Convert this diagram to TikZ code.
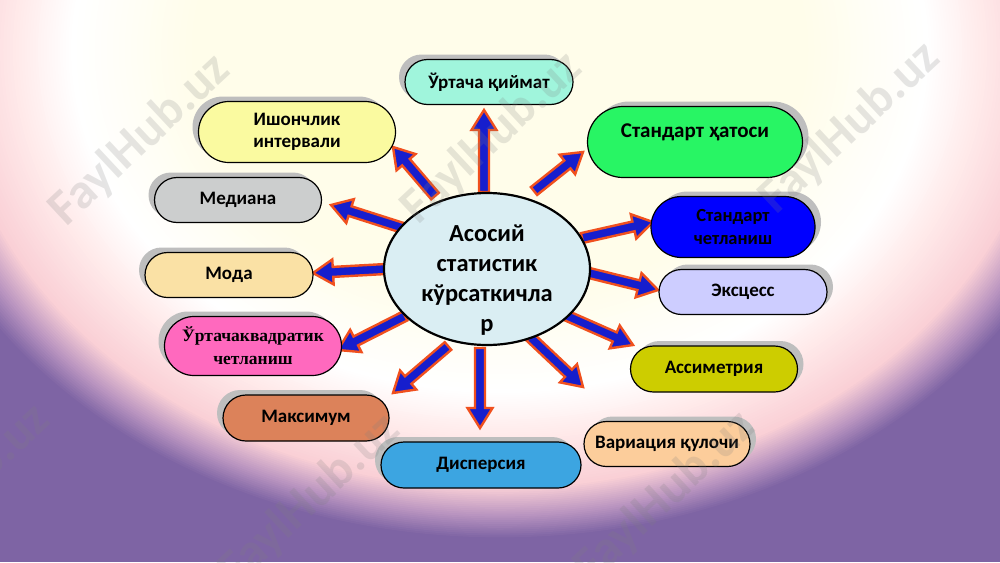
\documentclass[tikz,border=0pt]{standalone}
\usepackage{fontspec}
\setmainfont{Carlito}
\newfontfamily\serifb{Liberation Serif}
\usetikzlibrary{calc,shapes.misc,shapes.geometric,shadows}
\definecolor{bgA}{RGB}{255,253,234}
\definecolor{bgW}{RGB}{255,255,255}
\definecolor{bgB}{RGB}{255,234,234}
\definecolor{bgC}{RGB}{250,208,214}
\definecolor{bgD}{RGB}{185,148,192}
\definecolor{bgP}{RGB}{126,100,164}
\definecolor{shgray}{RGB}{190,190,190}
\definecolor{arrF}{RGB}{22,30,205}
\definecolor{arrD}{RGB}{240,80,30}
\definecolor{cCen}{RGB}{218,238,243}
\definecolor{cUrt}{RGB}{160,245,220}
\definecolor{cIsh}{RGB}{250,250,160}
\definecolor{cMed}{RGB}{204,206,206}
\definecolor{cMod}{RGB}{250,225,165}
\definecolor{cKv}{RGB}{255,105,190}
\definecolor{cMax}{RGB}{220,130,90}
\definecolor{cDis}{RGB}{60,165,225}
\definecolor{cVar}{RGB}{252,205,155}
\definecolor{cAss}{RGB}{205,205,0}
\definecolor{cEks}{RGB}{205,205,255}
\definecolor{cSch}{RGB}{0,0,255}
\definecolor{cSht}{RGB}{40,245,100}
\newcommand\ringband[5]{%
  \foreach \i in {0,...,#5}{%
    \pgfmathsetmacro\rx{1.1*(#1-(#1-#2)*\i/#5)}%
    \pgfmathsetmacro\ry{0.88*(#1-(#1-#2)*\i/#5)}%
    \pgfmathtruncatemacro\pp{100*\i/#5}%
    \fill[#4!\pp!#3] (500,50) circle[x radius=\rx, y radius=\ry];
  }}
\newcommand\blockarrow[2]{%
  \coordinate (ab) at ($(#2)!20pt!(#1)$);
  \draw[arrsty] ($(#1)!5pt!90:(#2)$) -- ($(ab)!5pt!90:(#2)$) -- ($(ab)!12.5pt!90:(#2)$) -- (#2) -- ($(ab)!12.5pt!-90:(#2)$) -- ($(ab)!5pt!-90:(#2)$) -- ($(#1)!5pt!-90:(#2)$) -- cycle;}
\tikzset{
  arrsty/.style={fill=arrF, draw=arrD, line width=2.4pt, line join=miter},
  pill/.style={rounded rectangle, draw=black, line width=1.2pt, inner sep=0pt, align=center,
    font=\bfseries\fontsize{19}{23}\selectfont},
  shl/.style={general shadow={fill=shgray, shadow xshift=-6pt, shadow yshift=5pt}},
  shr/.style={general shadow={fill=shgray, shadow xshift=6pt, shadow yshift=5pt}},
  wm/.style={font=\bfseries\fontsize{50}{50}\selectfont, text=gray, opacity=0.2, rotate=43},
}
\begin{document}
\begin{tikzpicture}[x=1pt,y=-1pt]
\useasboundingbox (0,0) rectangle (1000,562);
% background
\begin{scope}
  \clip (0,0) rectangle (1000,562);
  \fill[bgP] (0,0) rectangle (1000,562);
  \ringband{556}{530}{bgP}{bgD}{12}
  \ringband{530}{498}{bgD}{bgC}{15}
  \ringband{498}{440}{bgC}{bgB}{20}
  \ringband{440}{390}{bgB}{bgW}{20}
  \ringband{390}{280}{bgW}{bgA}{20}
\end{scope}
% arrow coordinates
\coordinate (a1t) at (484,192);  \coordinate (a1h) at (484,110);
\coordinate (a2t) at (435,196);  \coordinate (a2h) at (393,147);
\coordinate (a3t) at (534,191);  \coordinate (a3h) at (583,152);
\coordinate (a4t) at (403,228);  \coordinate (a4h) at (331,205);
\coordinate (a5t) at (386,269);  \coordinate (a5h) at (313,273);
\coordinate (a6t) at (405,316);  \coordinate (a6h) at (338,350);
\coordinate (a7t) at (448,346);  \coordinate (a7h) at (393,393);
\coordinate (a8t) at (480,348);  \coordinate (a8h) at (480,428);
\coordinate (a9t) at (530,337);  \coordinate (a9h) at (583,387);
\coordinate (a10t) at (565,315); \coordinate (a10h) at (633,345);
\coordinate (a11t) at (585,272); \coordinate (a11h) at (658,290);
\coordinate (a12t) at (582,238); \coordinate (a12h) at (653,222);
\blockarrow{a1t}{a1h}
\blockarrow{a2t}{a2h}
\blockarrow{a3t}{a3h}
\blockarrow{a4t}{a4h}
\blockarrow{a5t}{a5h}
\blockarrow{a6t}{a6h}
\blockarrow{a7t}{a7h}
\blockarrow{a8t}{a8h}
\blockarrow{a9t}{a9h}
\blockarrow{a10t}{a10h}
\blockarrow{a11t}{a11h}
\blockarrow{a12t}{a12h}
% centre
\node[ellipse, draw=black, line width=2.2pt, fill=cCen, minimum width=206pt, minimum height=152pt,
  inner sep=0pt] (cen) at (487,269) {};
\node[align=center, inner sep=0pt, font=\bfseries\fontsize{24.5}{30}\selectfont] (cent) at (487,280)
  {Асосий\\статистик\\кўрсаткичла\\р};
% pills
\node[pill, shl, fill=cUrt, minimum width=168pt, minimum height=45pt] (urt) at (489,82) {Ўртача қиймат};
\node[pill, shl, fill=cIsh, minimum width=197pt, minimum height=61pt,
  font=\bfseries\fontsize{19}{22}\selectfont] (ish) at (297,132) {Ишончлик\\интервали};
\node[pill, shl, fill=cMed, minimum width=167pt, minimum height=45pt] (med) at (238,200) {Медиана};
\node[pill, shl, fill=cMod, minimum width=168pt, minimum height=45pt] (mod) at (229,275) {Мода};
\node[pill, shl, fill=cKv, minimum width=177pt, minimum height=59pt,
  font=\serifb\bfseries\fontsize{17.5}{23}\selectfont] (kv) at (253,346) {Ўртачаквадратик\\четланиш};
\node[pill, shl, fill=cMax, minimum width=166pt, minimum height=46pt] (max) at (306,418) {Максимум};
\node[pill, shl, fill=cDis, minimum width=200pt, minimum height=46pt] (dis) at (481,465) {Дисперсия};
\node[pill, shr, fill=cVar, minimum width=166pt, minimum height=45pt] (var) at (667,444) {Вариация қулочи};
\node[pill, shr, fill=cAss, minimum width=167pt, minimum height=46pt] (ass) at (714,369) {Ассиметрия};
\node[pill, shr, fill=cEks, minimum width=168pt, minimum height=45pt] (eks) at (743,292) {Эксцесс};
\node[pill, shr, fill=cSch, minimum width=164pt, minimum height=61pt,
  font=\bfseries\fontsize{18.5}{23}\selectfont] (sch) at (733,227) {Стандарт\\четланиш};
\node[pill, shr, fill=cSht, minimum width=215pt, minimum height=71pt] (sht) at (695,142) {};
\node[font=\bfseries\fontsize{21}{24}\selectfont] (shtt) at (695,132) {Стандарт ҳатоси};
% watermarks
\node[wm] (w1) at (140,140) {FaylHub.uz};
\node[wm] (w2) at (492,138) {FaylHub.uz};
\node[wm] (w3) at (850,128) {FaylHub.uz};
\node[wm] (w4) at (-40,490) {FaylHub.uz};
\node[wm] (w5) at (310,500) {FaylHub.uz};
\node[wm] (w6) at (665,497) {FaylHub.uz};
\end{tikzpicture}
\end{document}
